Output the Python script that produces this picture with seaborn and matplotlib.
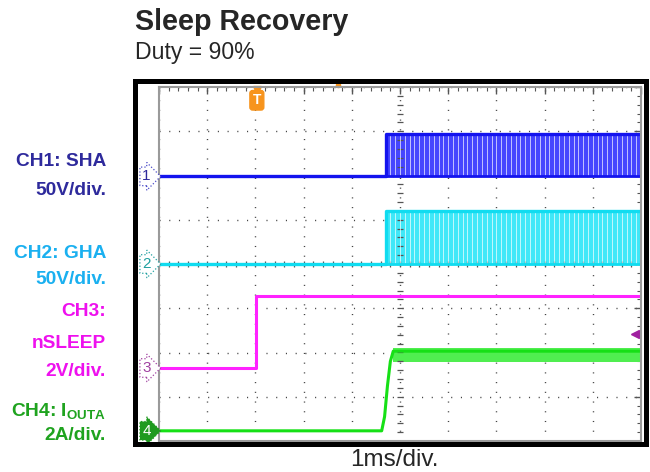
import numpy as np
import pandas as pd
import matplotlib
matplotlib.use("Agg")
import matplotlib.pyplot as plt
import seaborn as sns
from matplotlib.patches import Rectangle

# scope screen in divisions: 10 x-div (1ms/div), 8 y-div
# CH1 / CH2 switch nodes: PWM starts after wake-up
pwm_start = 4.71
pwm_period = 0.1      # 10 kHz at 1 ms/div
duty = 0.9
ch1_low, ch1_high = 1.98, 2.93
ch2_low, ch2_high = 0.0, 1.2

# CH3 nSLEEP
ch3_t = [0, 2.02, 2.02, 10]
ch3_v = [-2.35, -2.35, -0.72, -0.72]

# CH4 current
ch4_t = [0, 4.62, 4.68, 4.74, 4.80, 4.86, 10]
ch4_v = [-3.77, -3.77, -3.45, -2.75, -2.2, -1.97, -1.97]
ch4_ripple_lo, ch4_ripple_hi = -2.22, -1.9

labels = ["CH1: SHA", "50V/div.", "CH2: GHA", "50V/div.", "CH3:", "nSLEEP",
          "2V/div.", r"CH4: I$_{\mathbf{OUTA}}$", "2A/div."]
label_y = [162, 191, 253, 279, 312, 343, 371, 412, 435]
label_colors = ["#2e2a9c", "#2e2a9c", "#1ab0f0", "#1ab0f0", "#ee10ee", "#ee10ee",
                "#ee10ee", "#1fa31f", "#1fa31f"]

sns.set_style("white")
plt.rcParams["font.family"] = ["Liberation Sans", "DejaVu Sans"]
plt.rcParams["mathtext.fontset"] = "custom"
plt.rcParams["mathtext.bf"] = "Liberation Sans:bold"
plt.rcParams["mathtext.rm"] = "Liberation Sans"

W, H = 650, 472
fig = plt.figure(figsize=(W / 100, H / 100), dpi=100)
gx0, gx1, gy0, gy1 = 159, 641, 87, 441
ax = fig.add_axes([gx0 / W, 1 - gy1 / H, (gx1 - gx0) / W, (gy1 - gy0) / H])
ax.set_xlim(0, 10)
ax.set_ylim(-4, 4)

# graticule
ax.set_xticks(range(11))
ax.set_yticks(range(-4, 5))
ax.set_xticks(np.arange(0, 10.01, 0.2), minor=True)
ax.set_yticks(np.arange(-4, 4.01, 0.2), minor=True)
ax.tick_params(which="both", direction="in", top=True, right=True,
               labelbottom=False, labelleft=False, color="#555")
ax.tick_params(which="major", length=5, width=1)
ax.tick_params(which="minor", length=3, width=0.8)
ax.grid(True, which="major", color="#444", lw=1.0, linestyle=(0, (0.8, 6.2)))
for s in ax.spines.values():
    s.set_color("#9a9a9a")
    s.set_linewidth(1.5)
minor_x = np.arange(0, 10.01, 0.2)
minor_y = np.arange(-4, 4.01, 0.2)
ax.plot([5] * len(minor_y), minor_y, ls="none", marker="_", ms=5, mew=0.9, color="#555")
ax.plot(minor_x, [0] * len(minor_x), ls="none", marker="|", ms=5, mew=0.9, color="#555")

# PWM channels
off_times = np.arange(pwm_start + pwm_period * duty, 10, pwm_period)
for low, high, fill, line in [(ch1_low, ch1_high, "#4646ff", "#1414ee"),
                              (ch2_low, ch2_high, "#40e8f8", "#10dcf0")]:
    ax.fill_between([pwm_start, 10], [low, low], [high, high], color=fill, lw=0)
    ax.vlines(off_times, low, high, color="white", lw=0.55, alpha=0.85)
    sns.lineplot(x=[0, pwm_start, pwm_start, 10], y=[low, low, high, high], ax=ax,
                 color=line, lw=2.4, estimator=None, sort=False)
    sns.lineplot(x=[pwm_start, 10], y=[low, low], ax=ax, color=line, lw=2.0,
                 estimator=None, sort=False)

# nSLEEP
sns.lineplot(x=ch3_t, y=ch3_v, ax=ax, color="#ff22ff", lw=2.2, estimator=None, sort=False)

# current
ax.fill_between([ch4_t[-2], 10], [ch4_ripple_lo] * 2, [ch4_ripple_hi] * 2,
                color="#50ee50", lw=0)
sns.lineplot(x=ch4_t, y=ch4_v, ax=ax, color="#16e016", lw=2.2, estimator=None, sort=False)

# channel ground markers
marker_levels = [ch1_low, ch2_low, ch3_v[0], ch4_v[0]]
marker_style = [("white", "#4a4ac8", "#2e2a9c"), ("white", "#20a0a0", "#20a0a0"),
                ("white", "#a040a0", "#a040a0"), ("#1f9a1f", "#1f9a1f", "white")]
trans = ax.get_yaxis_transform()
for i, (lvl, (fc, ec, tc)) in enumerate(zip(marker_levels, marker_style)):
    ax.text(-0.026, lvl, str(i + 1), transform=trans, ha="center", va="center",
            fontsize=11, color=tc, clip_on=False,
            bbox=dict(boxstyle="rarrow,pad=0.15", fc=fc, ec=ec, lw=0.9, ls=":"))

# trigger marker
ax.text(2.03, 3.7, "T", ha="center", va="center", fontsize=10, fontweight="bold",
        color="white", bbox=dict(boxstyle="round,pad=0.2", fc="#f7941d", ec="#f7941d"))
ax.plot([2.03], [3.93], marker="v", ms=6, color="#f7941d", clip_on=False)
ax.plot([3.71], [4.05], marker="o", ms=3, color="#f7941d", clip_on=False)
ax.plot([9.87], [-1.58], marker="<", ms=6, color="#a020a0", clip_on=False)
ax.plot([9.87, 10], [-1.58, -1.58], color="#a020a0", lw=1.2)

# outer scope frame
fig.patches.append(Rectangle((135 / W, 1 - 444 / H), (645.5 - 135) / W, (444 - 81) / H,
                             transform=fig.transFigure, fill=False, ec="black", lw=3.6))

# texts
fig.text(135 / W, 1 - 30 / H, "Sleep Recovery", fontsize=20.6, fontweight="bold",
         va="baseline", ha="left")
fig.text(135 / W, 1 - 59 / H, "Duty = 90%", fontsize=16.6, va="baseline", ha="left")
fig.text(394 / W, 1 - 460 / H, "1ms/div.", fontsize=17.5, va="center", ha="center")
for txt, y, c in zip(labels, label_y, label_colors):
    fig.text(106 / W, 1 - y / H, txt, fontsize=13.8, fontweight="bold", color=c,
             ha="right", va="center")

fig.savefig("out.png", dpi=100)
